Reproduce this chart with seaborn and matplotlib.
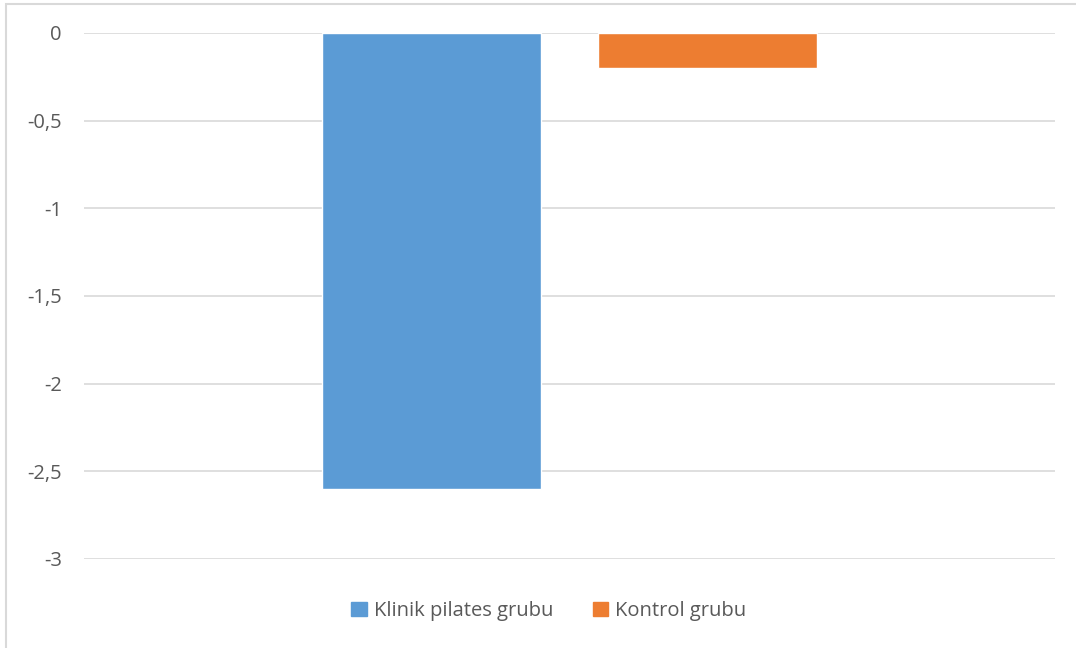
import matplotlib as mpl
import matplotlib.pyplot as plt
from matplotlib.ticker import FuncFormatter, MultipleLocator
from matplotlib.patches import Rectangle
import seaborn as sb
import pandas as pd

groups = ["Klinik pilates grubu", "Kontrol grubu"]
values = [-2.6, -0.2]
colors = ["#5B9BD5", "#ED7D31"]

sb.set_style("white")
mpl.rcParams["font.family"] = ["Open Sans", "DejaVu Sans"]

df = pd.DataFrame({"cat": ["" for _ in groups], "grup": groups, "deger": values})

fig = plt.figure(figsize=(10.76, 6.48), dpi=100)
ax1 = fig.add_axes([84/1076, 1-559/648, (1055-84)/1076, (559-33)/648])

sb.barplot(data=df, x="cat", y="deger", hue="grup", palette=colors,
           width=0.5685, gap=0.21, saturation=1, legend=False, ax=ax1)

ax1.set_xlim(-0.5, 0.5)
ax1.set_ylim(-3, 0)
ax1.yaxis.set_major_locator(MultipleLocator(0.5))
ax1.yaxis.set_major_formatter(FuncFormatter(lambda v, p: ("%g" % v).replace(".", ",")))
ax1.grid(axis="y", color="#D9D9D9", linewidth=1.2)
ax1.set_axisbelow(True)
for s in ax1.spines.values():
    s.set_visible(False)
ax1.set_xticks([])
ax1.set_xlabel("")
ax1.set_ylabel("")
ax1.tick_params(axis="y", length=0, pad=16, labelsize=14.5, labelcolor="#595959")

handles = [Rectangle((0, 0), 1, 1, color=c) for c in colors]
fig.legend(handles, groups, loc="center", bbox_to_anchor=(549/1076, 1-611/648), ncol=2,
           frameon=False, fontsize=14.5, labelcolor="#595959", handlelength=0.75,
           handleheight=0.75, handletextpad=0.35, columnspacing=2.0)

fig.patches.append(Rectangle((6/1076, -0.01), 1.1, 1-4/648+0.01, transform=fig.transFigure,
                             fill=False, edgecolor="#D9D9D9", linewidth=1.5))

fig.savefig("out.png", dpi=100)
